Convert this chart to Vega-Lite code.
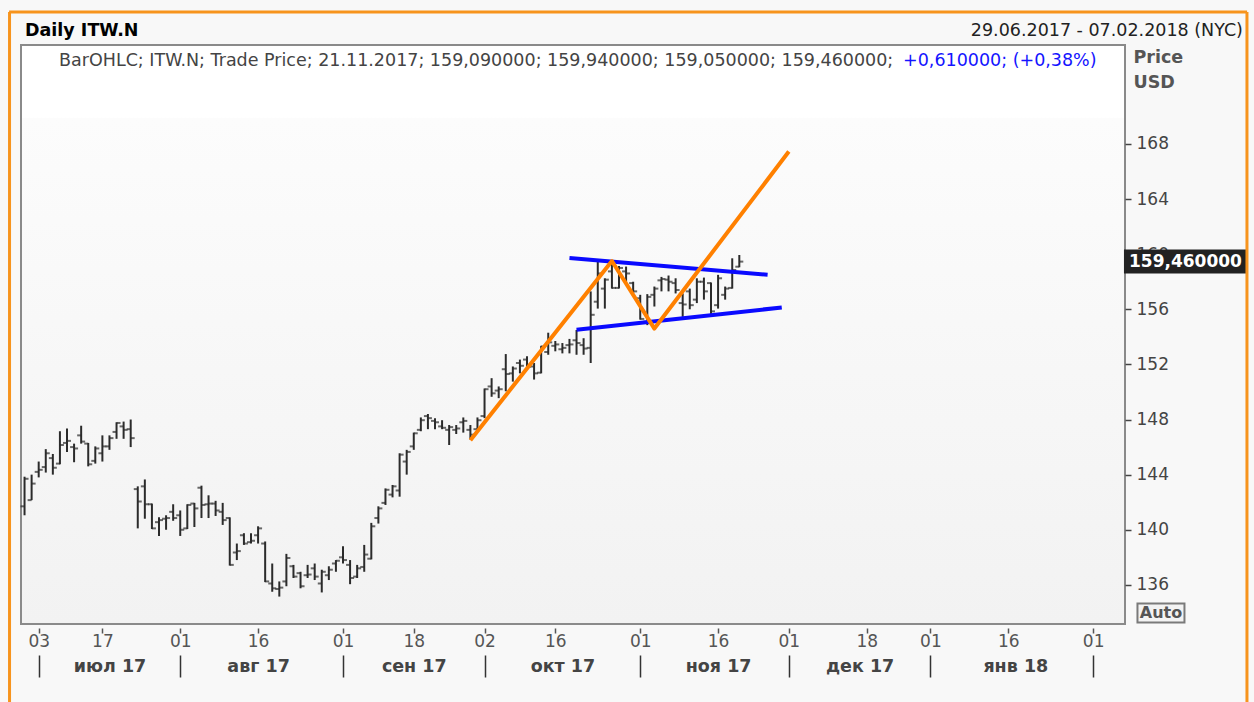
{
"$schema":"https://vega.github.io/schema/vega-lite/v6.json",
"width":1104,"height":579,
"autosize":{"type":"none"},
"padding":{"left":21,"top":45,"right":129,"bottom":78},
"background":"#f8f8f8",
"view":{"fill":{"gradient":"linear","x1":0,"y1":0,"x2":0,"y2":1,"stops":[{"offset":0,"color":"#ffffff"},{"offset":0.125,"color":"#ffffff"},{"offset":0.127,"color":"#fcfcfc"},{"offset":1,"color":"#f2f2f2"}]},"stroke":"#8a8a8a","strokeWidth":2},
"config":{"font":"DejaVu Sans"},
"resolve":{"axis":{"x":"independent","y":"independent"}},
"datasets":{
"px":[
{"d":"2017-06-29","o":141.7,"h":143.85,"l":141.05,"c":143.7},
{"d":"2017-06-30","o":142.15,"h":144.0,"l":142.15,"c":143.35},
{"d":"2017-07-03","o":144.2,"h":144.95,"l":143.8,"c":144.35},
{"d":"2017-07-05","o":144.55,"h":145.85,"l":144.15,"c":145.55},
{"d":"2017-07-06","o":145.2,"h":145.5,"l":144.0,"c":144.5},
{"d":"2017-07-07","o":144.8,"h":147.15,"l":144.75,"c":146.15},
{"d":"2017-07-10","o":146.3,"h":147.35,"l":145.65,"c":146.45},
{"d":"2017-07-11","o":146.0,"h":146.25,"l":144.9,"c":145.9},
{"d":"2017-07-12","o":146.85,"h":147.55,"l":146.25,"c":146.4},
{"d":"2017-07-13","o":146.25,"h":146.3,"l":144.6,"c":144.75},
{"d":"2017-07-14","o":145.0,"h":146.05,"l":144.8,"c":145.9},
{"d":"2017-07-17","o":145.55,"h":146.85,"l":144.95,"c":146.05},
{"d":"2017-07-18","o":146.05,"h":146.85,"l":145.8,"c":146.65},
{"d":"2017-07-19","o":147.1,"h":147.8,"l":146.6,"c":147.75},
{"d":"2017-07-20","o":147.5,"h":147.85,"l":146.6,"c":147.25},
{"d":"2017-07-21","o":147.3,"h":148.0,"l":146.0,"c":146.65},
{"d":"2017-07-24","o":142.95,"h":143.15,"l":140.1,"c":142.05},
{"d":"2017-07-25","o":143.15,"h":143.65,"l":140.8,"c":141.85},
{"d":"2017-07-26","o":141.85,"h":141.9,"l":140.05,"c":140.1},
{"d":"2017-07-27","o":140.55,"h":140.9,"l":139.55,"c":140.7},
{"d":"2017-07-28","o":140.8,"h":141.05,"l":140.0,"c":140.85},
{"d":"2017-07-31","o":141.3,"h":141.85,"l":140.65,"c":140.85},
{"d":"2017-08-01","o":141.05,"h":141.4,"l":139.55,"c":140.0},
{"d":"2017-08-02","o":140.1,"h":141.85,"l":140.05,"c":141.8},
{"d":"2017-08-03","o":141.9,"h":141.95,"l":140.2,"c":141.55},
{"d":"2017-08-04","o":143.05,"h":143.2,"l":140.85,"c":141.8},
{"d":"2017-08-07","o":141.85,"h":142.5,"l":140.85,"c":141.9},
{"d":"2017-08-08","o":141.9,"h":142.1,"l":141.0,"c":141.4},
{"d":"2017-08-09","o":141.3,"h":141.95,"l":140.35,"c":140.7},
{"d":"2017-08-10","o":140.85,"h":140.9,"l":137.4,"c":137.45},
{"d":"2017-08-11","o":138.35,"h":139.0,"l":137.8,"c":138.45},
{"d":"2017-08-14","o":139.6,"h":139.75,"l":138.9,"c":139.0},
{"d":"2017-08-15","o":139.1,"h":139.75,"l":139.0,"c":139.2},
{"d":"2017-08-16","o":139.6,"h":140.25,"l":139.0,"c":140.1},
{"d":"2017-08-17","o":139.0,"h":139.15,"l":136.2,"c":136.25},
{"d":"2017-08-18","o":136.1,"h":137.55,"l":135.5,"c":135.75},
{"d":"2017-08-21","o":135.7,"h":136.25,"l":135.15,"c":135.8},
{"d":"2017-08-22","o":136.25,"h":138.25,"l":135.9,"c":137.95},
{"d":"2017-08-23","o":137.35,"h":137.45,"l":136.5,"c":136.6},
{"d":"2017-08-24","o":136.85,"h":136.95,"l":135.75,"c":135.9},
{"d":"2017-08-25","o":136.7,"h":137.45,"l":136.5,"c":136.75},
{"d":"2017-08-28","o":137.2,"h":137.55,"l":136.35,"c":136.6},
{"d":"2017-08-29","o":136.1,"h":137.1,"l":135.45,"c":136.95},
{"d":"2017-08-30","o":136.7,"h":137.35,"l":136.35,"c":137.1},
{"d":"2017-08-31","o":137.55,"h":137.8,"l":136.95,"c":137.75},
{"d":"2017-09-01","o":138.0,"h":138.8,"l":137.55,"c":137.8},
{"d":"2017-09-05","o":137.45,"h":137.8,"l":136.05,"c":136.5},
{"d":"2017-09-06","o":136.6,"h":137.45,"l":136.5,"c":137.2},
{"d":"2017-09-07","o":137.3,"h":138.9,"l":136.95,"c":138.2},
{"d":"2017-09-08","o":137.9,"h":140.5,"l":137.85,"c":140.25},
{"d":"2017-09-11","o":140.85,"h":141.7,"l":140.45,"c":141.55},
{"d":"2017-09-12","o":141.95,"h":143.0,"l":141.8,"c":142.9},
{"d":"2017-09-13","o":142.55,"h":143.25,"l":142.35,"c":143.15},
{"d":"2017-09-14","o":142.85,"h":145.55,"l":142.4,"c":145.45},
{"d":"2017-09-15","o":144.95,"h":145.8,"l":144.0,"c":145.65},
{"d":"2017-09-18","o":146.05,"h":147.05,"l":145.8,"c":147.0},
{"d":"2017-09-19","o":147.25,"h":148.15,"l":147.15,"c":147.95},
{"d":"2017-09-20","o":148.25,"h":148.4,"l":147.3,"c":148.1},
{"d":"2017-09-21","o":147.9,"h":148.1,"l":147.3,"c":147.8},
{"d":"2017-09-22","o":147.5,"h":147.95,"l":147.3,"c":147.4},
{"d":"2017-09-25","o":147.25,"h":147.6,"l":146.15,"c":147.45},
{"d":"2017-09-26","o":147.25,"h":147.6,"l":146.95,"c":147.35},
{"d":"2017-09-27","o":147.8,"h":148.15,"l":147.05,"c":147.9},
{"d":"2017-09-28","o":147.25,"h":147.6,"l":146.55,"c":146.9},
{"d":"2017-09-29","o":147.3,"h":148.15,"l":147.15,"c":147.95},
{"d":"2017-10-02","o":148.25,"h":150.25,"l":148.1,"c":150.2},
{"d":"2017-10-03","o":150.4,"h":151.0,"l":149.65,"c":149.9},
{"d":"2017-10-04","o":150.1,"h":150.4,"l":149.55,"c":150.2},
{"d":"2017-10-05","o":151.65,"h":152.75,"l":150.05,"c":151.3},
{"d":"2017-10-06","o":151.35,"h":151.85,"l":150.75,"c":151.7},
{"d":"2017-10-09","o":152.1,"h":152.35,"l":151.35,"c":151.9},
{"d":"2017-10-10","o":152.35,"h":152.6,"l":151.6,"c":151.85},
{"d":"2017-10-11","o":151.85,"h":152.1,"l":150.9,"c":151.35},
{"d":"2017-10-12","o":151.4,"h":153.35,"l":151.35,"c":153.3},
{"d":"2017-10-13","o":152.9,"h":154.3,"l":152.7,"c":153.6},
{"d":"2017-10-16","o":153.35,"h":153.7,"l":152.95,"c":153.45},
{"d":"2017-10-17","o":153.1,"h":153.55,"l":152.8,"c":153.2},
{"d":"2017-10-18","o":153.4,"h":153.85,"l":152.8,"c":153.45},
{"d":"2017-10-19","o":153.75,"h":154.5,"l":152.7,"c":153.55},
{"d":"2017-10-20","o":153.4,"h":153.9,"l":152.7,"c":153.15},
{"d":"2017-10-23","o":153.2,"h":157.3,"l":152.1,"c":155.6},
{"d":"2017-10-24","o":156.55,"h":159.45,"l":156.05,"c":158.6},
{"d":"2017-10-25","o":157.5,"h":158.25,"l":156.05,"c":158.15},
{"d":"2017-10-26","o":158.75,"h":159.35,"l":157.5,"c":157.55},
{"d":"2017-10-27","o":157.55,"h":159.15,"l":157.5,"c":159.0},
{"d":"2017-10-30","o":158.75,"h":159.1,"l":157.9,"c":158.6},
{"d":"2017-10-31","o":157.9,"h":158.0,"l":157.15,"c":157.3},
{"d":"2017-11-01","o":156.8,"h":157.05,"l":155.25,"c":155.3},
{"d":"2017-11-02","o":155.1,"h":157.1,"l":154.85,"c":156.9},
{"d":"2017-11-03","o":157.05,"h":157.65,"l":156.2,"c":157.5},
{"d":"2017-11-06","o":158.1,"h":158.35,"l":157.3,"c":158.2},
{"d":"2017-11-07","o":158.15,"h":158.45,"l":157.3,"c":158.0},
{"d":"2017-11-08","o":157.9,"h":158.25,"l":157.15,"c":157.4},
{"d":"2017-11-09","o":156.45,"h":157.15,"l":155.45,"c":156.35},
{"d":"2017-11-10","o":157.3,"h":157.5,"l":156.0,"c":156.3},
{"d":"2017-11-13","o":156.7,"h":158.25,"l":156.45,"c":158.0},
{"d":"2017-11-14","o":158.0,"h":158.3,"l":156.7,"c":157.3},
{"d":"2017-11-15","o":157.9,"h":157.95,"l":155.45,"c":155.85},
{"d":"2017-11-16","o":156.3,"h":158.5,"l":156.05,"c":158.25},
{"d":"2017-11-17","o":157.05,"h":157.65,"l":156.7,"c":157.5},
{"d":"2017-11-20","o":157.55,"h":159.7,"l":157.5,"c":158.85},
{"d":"2017-11-21","o":159.09,"h":159.94,"l":159.05,"c":159.46},
{"d":"2017-11-22"},{"d":"2017-11-24"},{"d":"2017-11-27"},{"d":"2017-11-28"},{"d":"2017-11-29"},{"d":"2017-11-30"},
{"d":"2017-12-01"},{"d":"2017-12-04"},{"d":"2017-12-05"},{"d":"2017-12-06"},{"d":"2017-12-07"},{"d":"2017-12-08"},
{"d":"2017-12-11"},{"d":"2017-12-12"},{"d":"2017-12-13"},{"d":"2017-12-14"},{"d":"2017-12-15"},
{"d":"2017-12-18"},{"d":"2017-12-19"},{"d":"2017-12-20"},{"d":"2017-12-21"},{"d":"2017-12-22"},
{"d":"2017-12-26"},{"d":"2017-12-27"},{"d":"2017-12-28"},{"d":"2017-12-29"},
{"d":"2018-01-01"},{"d":"2018-01-02"},{"d":"2018-01-03"},{"d":"2018-01-04"},{"d":"2018-01-05"},
{"d":"2018-01-08"},{"d":"2018-01-09"},{"d":"2018-01-10"},{"d":"2018-01-11"},{"d":"2018-01-12"},
{"d":"2018-01-15"},{"d":"2018-01-16"},{"d":"2018-01-17"},{"d":"2018-01-18"},{"d":"2018-01-19"},
{"d":"2018-01-22"},{"d":"2018-01-23"},{"d":"2018-01-24"},{"d":"2018-01-25"},{"d":"2018-01-26"},
{"d":"2018-01-29"},{"d":"2018-01-30"},{"d":"2018-01-31"},
{"d":"2018-02-01"},{"d":"2018-02-02"},{"d":"2018-02-05"},{"d":"2018-02-06"},{"d":"2018-02-07"}
],
"zig":[{"d":"2017-09-28","p":146.5},{"d":"2017-10-26","p":159.5},{"d":"2017-11-03","p":154.6},{"d":"2017-12-01","p":167.45}],
"tri":[{"d":"2017-10-18","p":159.73,"g":"upper"},{"d":"2017-11-28","p":158.51,"g":"upper"},{"d":"2017-10-19","p":154.52,"g":"lower"},{"d":"2017-11-30","p":156.13,"g":"lower"}]
},
"layer":[
{"data":{"name":"px"},"mark":{"type":"tick","opacity":0},
 "encoding":{"x":{"field":"d","type":"ordinal","scale":{"type":"point","padding":0.5},
  "axis":{"orient":"bottom","values":["2017-07-03","2017-07-17","2017-08-01","2017-08-16","2017-09-01","2017-09-18","2017-10-02","2017-10-16","2017-11-01","2017-11-16","2017-12-01","2017-12-18","2018-01-01","2018-01-16","2018-02-01"],"labelExpr":"slice(datum.value, 8)","offset":4,"tickSize":5,"tickColor":"#555555","tickWidth":1.5,"labelPadding":0,"labelFontSize":17,"labelColor":"#555555","labelAngle":0,"labelOverlap":false,"labelFlush":false,"domain":false,"grid":false,"title":null}}}},
{"data":{"name":"px"},"mark":{"type":"rule","color":"#2b2b2b","strokeWidth":2},
 "encoding":{"x":{"field":"d","type":"ordinal",
  "axis":{"orient":"bottom","values":["2017-07-03","2017-08-01","2017-09-01","2017-10-02","2017-11-01","2017-12-01","2018-01-01","2018-02-01"],"offset":31,"tickSize":22,"tickColor":"#333333","tickWidth":1.5,"labels":false,"domain":false,"grid":false,"title":null}},
  "y":{"field":"l","type":"quantitative","scale":{"domain":[133.16,175.18],"nice":false,"zero":false},
   "axis":{"orient":"right","values":[136,140,144,148,152,156,160,164,168],"tickSize":6,"tickColor":"#444444","tickWidth":1.5,"labelFontSize":17,"labelColor":"#444444","labelPadding":5,"domain":false,"grid":false,"title":["Price","USD"],"titleAngle":0,"titleAlign":"left","titleBaseline":"top","titleX":8,"titleY":3,"titleFontSize":17.5,"titleFontWeight":"bold","titleColor":"#555555","titleLineHeight":25}},
  "y2":{"field":"h"}}},
{"data":{"name":"px"},"mark":{"type":"tick","color":"#2b2b2b","size":4,"thickness":2,"xOffset":-2},
 "encoding":{"x":{"field":"d","type":"ordinal",
  "axis":{"orient":"bottom","values":["2017-07-18","2017-08-16","2017-09-18","2017-10-17","2017-11-16","2017-12-15","2018-01-17"],"labelExpr":"['янв','фев','мар','апр','май','июн','июл','авг','сен','окт','ноя','дек'][toNumber(slice(datum.value,5,7))-1] + ' ' + slice(datum.value,2,4)","offset":33,"ticks":false,"labelPadding":0,"labelFontSize":17.5,"labelFontWeight":"bold","labelColor":"#444444","labelAngle":0,"labelOverlap":false,"labelFlush":false,"domain":false,"grid":false,"title":null}},
  "y":{"field":"o","type":"quantitative","axis":null}}},
{"data":{"name":"px"},"mark":{"type":"tick","color":"#2b2b2b","size":4,"thickness":2,"xOffset":2},
 "encoding":{"x":{"field":"d","type":"ordinal","axis":null},"y":{"field":"c","type":"quantitative","axis":null}}},
{"data":{"name":"tri"},"mark":{"type":"line","color":"#0a0aff","strokeWidth":4},
 "encoding":{"x":{"field":"d","type":"ordinal","axis":null},"y":{"field":"p","type":"quantitative","axis":null},"detail":{"field":"g"}}},
{"data":{"name":"zig"},"mark":{"type":"line","color":"#ff8000","strokeWidth":4,"strokeJoin":"round"},
 "encoding":{"x":{"field":"d","type":"ordinal","axis":null},"y":{"field":"p","type":"quantitative","axis":null}}},
{"data":{"values":[{"t":"Daily ITW.N"}]},"mark":{"type":"text","align":"left","baseline":"alphabetic","fontSize":17.5,"fontWeight":"bold","color":"#000000","dx":0.5},
 "encoding":{"x":{"datum":"2017-06-29","type":"ordinal","axis":null},"y":{"datum":175.83,"axis":null},"text":{"field":"t"}}},
{"data":{"values":[{"t":"29.06.2017 - 07.02.2018 (NYC)"}]},"mark":{"type":"text","align":"right","baseline":"alphabetic","fontSize":17.5,"color":"#222222","dx":121.5},
 "encoding":{"x":{"datum":"2018-02-07","type":"ordinal","axis":null},"y":{"datum":175.83,"axis":null},"text":{"field":"t"}}},
{"data":{"values":[{"t":"BarOHLC; ITW.N; Trade Price; 21.11.2017; 159,090000; 159,940000; 159,050000; 159,460000;"}]},"mark":{"type":"text","align":"left","baseline":"alphabetic","fontSize":17.5,"color":"#444444","dx":34.5},
 "encoding":{"x":{"datum":"2017-06-29","type":"ordinal","axis":null},"y":{"datum":173.66,"axis":null},"text":{"field":"t"}}},
{"data":{"values":[{"t":"+0,610000; (+0,38%)"}]},"mark":{"type":"text","align":"left","baseline":"alphabetic","fontSize":17.5,"color":"#1414ff","dx":878.5},
 "encoding":{"x":{"datum":"2017-06-29","type":"ordinal","axis":null},"y":{"datum":173.66,"axis":null},"text":{"field":"t"}}},
{"data":{"values":[{"p":159.46}]},"mark":{"type":"tick","color":"#222222","size":123,"thickness":24,"xOffset":64,"opacity":1},
 "encoding":{"x":{"datum":"2018-02-07","type":"ordinal","axis":null},"y":{"field":"p","type":"quantitative","axis":null}}},
{"data":{"values":[{"p":159.46,"t":"159,460000"}]},"mark":{"type":"text","align":"center","baseline":"middle","fontSize":17,"fontWeight":"bold","color":"#ffffff","dx":64},
 "encoding":{"x":{"datum":"2018-02-07","type":"ordinal","axis":null},"y":{"field":"p","type":"quantitative","axis":null},"text":{"field":"t"}}},
{"data":{"values":[{"t":"Auto"}]},"mark":{"type":"tick","color":"#f3f3f3","stroke":"#7a7a7a","strokeWidth":2,"size":47,"thickness":19,"xOffset":39.5,"opacity":1},
 "encoding":{"x":{"datum":"2018-02-07","type":"ordinal","axis":null},"y":{"datum":133.96,"axis":null}}},
{"data":{"values":[{"t":"Auto"}]},"mark":{"type":"text","align":"center","baseline":"middle","fontSize":16,"fontWeight":"bold","color":"#555555","dx":39.5},
 "encoding":{"x":{"datum":"2018-02-07","type":"ordinal","axis":null},"y":{"datum":133.96,"axis":null},"text":{"field":"t"}}},
{"data":{"values":[{}]},"mark":{"type":"rule","color":"#f7941d","strokeWidth":3,"xOffset":-15},
 "encoding":{"x":{"datum":"2017-06-29","type":"ordinal","axis":null},"y":{"datum":177.57,"axis":null},"y2":{"datum":126}}},
{"data":{"values":[{}]},"mark":{"type":"rule","color":"#f7941d","strokeWidth":3,"xOffset":125.5},
 "encoding":{"x":{"datum":"2018-02-07","type":"ordinal","axis":null},"y":{"datum":177.57,"axis":null},"y2":{"datum":126}}},
{"data":{"values":[{}]},"mark":{"type":"tick","color":"#f7941d","size":1238,"thickness":3,"xOffset":2,"opacity":1},
 "encoding":{"x":{"datum":"2017-10-30","type":"ordinal","axis":null},"y":{"datum":177.57,"axis":null}}}
]
}
